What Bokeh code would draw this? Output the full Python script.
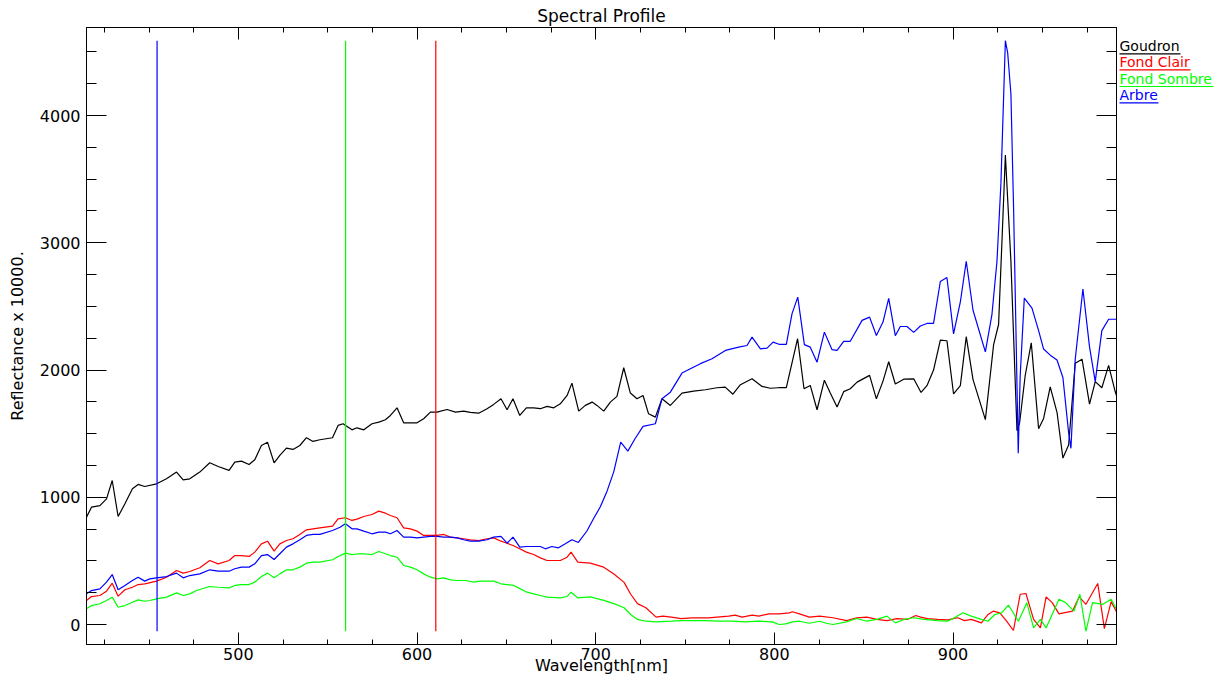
from bokeh.plotting import figure
from bokeh.models import Range1d, LinearAxis, FixedTicker
from bokeh.layouts import row
from bokeh.core.properties import value
from bokeh.embed import file_html
from bokeh.resources import INLINE

# ---------------------------------------------------------------- data
# Reflectance (x 10000) versus wavelength in nm, one profile per class.
wl_goudron = [415.0, 417.8, 422.5, 426.2, 429.4, 432.7, 436.5, 440.7, 443.9, 447.6,
              454.2, 459.8, 465.4, 469.1, 472.8, 478.4, 484.0, 488.7, 494.8, 498.0,
              501.7, 506.0, 509.2, 512.9, 516.3, 520.0, 523.2, 526.9, 530.6, 534.4,
              538.1, 541.8, 545.6, 552.7, 555.8, 558.6, 563.6, 566.4, 570.2, 574.8,
              578.6, 582.3, 585.1, 588.8, 592.5, 600.0, 603.7, 607.5, 611.2, 616.8,
              621.5, 626.1, 629.8, 634.5, 639.2, 642.9, 647.0, 650.4, 653.7, 657.5,
              661.2, 665.3, 669.0, 672.8, 676.5, 680.2, 684.0, 686.7, 690.5, 694.2,
              698.0, 700.7, 704.5, 708.2, 711.9, 715.7, 719.4, 723.1, 726.5, 729.6,
              733.4, 737.1, 741.8, 748.3, 754.8, 761.4, 767.9, 772.5, 776.8, 781.0,
              787.5, 793.1, 797.7, 802.4, 806.7, 813.0, 816.6, 820.1, 823.9, 828.0,
              831.3, 835.1, 838.8, 842.5, 846.3, 853.3, 857.1, 860.8, 864.0, 867.7,
              872.4, 878.0, 882.1, 885.4, 889.1, 892.9, 896.6, 900.3, 904.1, 907.4,
              911.2, 918.1, 922.7, 925.5, 927.5, 929.3, 932.4, 935.8, 937.3, 940.4,
              943.8, 947.9, 950.7, 954.4, 958.2, 961.5, 964.7, 968.4, 972.2, 976.4,
              979.6, 983.3, 987.1, 990.8, 991.5]
r_goudron = [844, 922, 935, 988, 1132, 849, 949, 1067, 1101, 1085,
             1106, 1145, 1198, 1137, 1145, 1198, 1271, 1242, 1211, 1276,
             1284, 1258, 1295, 1407, 1433, 1271, 1329, 1386, 1376, 1407,
             1468, 1439, 1452, 1468, 1565, 1578, 1530, 1546, 1530, 1578,
             1591, 1609, 1643, 1703, 1585, 1585, 1617, 1669, 1669, 1690,
             1669, 1677, 1667, 1661, 1696, 1730, 1774, 1688, 1774, 1643,
             1703, 1703, 1696, 1714, 1703, 1735, 1800, 1897, 1677, 1722,
             1748, 1722, 1677, 1748, 1793, 2018, 1819, 1774, 1800, 1656,
             1630, 1774, 1722, 1819, 1834, 1845, 1861, 1866, 1810, 1885,
             1932, 1871, 1857, 1861, 1861, 2246, 1853, 1879, 1688, 1920,
             1819, 1710, 1830, 1853, 1905, 1958, 1774, 1913, 2065, 1890,
             1928, 1931, 1824, 1877, 2000, 2235, 2230, 1812, 1877, 2262,
             1925, 1610, 2197, 2358, 3050, 3690, 2855, 1524, 1588, 1957,
             2214, 1539, 1620, 1867, 1668, 1308, 1411, 2053, 2085, 1732,
             1909, 1861, 2037, 1829, 1800]

wl_clair = [415.0, 417.8, 422.5, 426.2, 429.4, 432.7, 436.5, 440.7, 443.9, 447.6,
            454.2, 459.8, 465.4, 469.1, 472.8, 478.4, 484.0, 488.7, 494.8, 498.0,
            501.7, 506.0, 509.2, 512.9, 516.3, 520.0, 523.2, 526.9, 530.6, 534.4,
            538.1, 541.8, 545.6, 552.7, 555.8, 559.9, 563.6, 566.4, 570.2, 574.8,
            578.6, 582.3, 585.1, 588.8, 592.5, 596.3, 600.0, 603.7, 607.5, 611.2,
            615.0, 618.7, 622.4, 626.1, 629.8, 634.5, 639.2, 642.9, 647.0, 650.4,
            653.7, 657.5, 661.2, 665.3, 669.0, 672.8, 680.2, 684.0, 686.2, 690.0,
            697.0, 704.5, 710.2, 715.9, 719.6, 723.4, 728.1, 733.8, 737.6, 742.3,
            747.9, 753.6, 763.0, 774.4, 778.1, 781.9, 787.6, 791.3, 797.0, 802.7,
            808.3, 810.2, 814.0, 819.6, 825.3, 832.8, 840.4, 846.1, 851.7, 857.4,
            863.0, 868.7, 874.4, 879.1, 881.9, 885.7, 891.3, 897.0, 902.7, 906.4,
            910.2, 915.9, 919.6, 922.5, 926.2, 930.0, 933.8, 937.6, 940.8, 945.1,
            948.9, 952.1, 955.5, 959.3, 966.8, 970.6, 974.4, 981.0, 984.7, 988.5,
            991.5]
r_clair = [189, 220, 228, 262, 325, 223, 273, 293, 314, 320,
           341, 372, 425, 404, 417, 446, 503, 477, 503, 542,
           542, 535, 569, 634, 655, 577, 634, 660, 674, 708,
           744, 752, 760, 773, 831, 839, 818, 828, 849, 865,
           891, 875, 857, 839, 760, 752, 734, 700, 700, 700,
           708, 687, 681, 674, 666, 660, 674, 681, 655, 639,
           621, 595, 569, 550, 524, 503, 503, 529, 569, 490,
           482, 451, 397, 331, 238, 164, 132, 58, 66, 58,
           47, 53, 53, 66, 74, 58, 74, 66, 84, 84,
           92, 100, 84, 58, 66, 53, 31, 53, 58, 40,
           31, 47, 40, 71, 58, 47, 40, 37, 53, 31,
           40, 13, 79, 105, 92, 26, -47, 238, 244, 40,
           -27, 217, 172, 84, 105, 217, 159, 323, -32, 180,
           100]

wl_sombre = [415.0, 417.8, 422.5, 426.2, 429.4, 432.7, 436.5, 440.7, 443.9, 447.6,
             450.4, 454.2, 459.8, 465.4, 469.1, 472.8, 476.6, 484.0, 488.7, 494.8,
             498.0, 501.7, 506.0, 509.2, 512.9, 516.3, 520.0, 523.2, 526.9, 530.6,
             534.4, 538.1, 541.8, 545.6, 552.7, 555.8, 559.9, 563.6, 567.4, 570.2,
             574.8, 578.6, 582.3, 585.1, 588.8, 592.5, 596.3, 600.0, 603.7, 607.5,
             611.2, 615.0, 618.7, 622.4, 627.1, 631.7, 635.4, 642.9, 647.0, 650.4,
             654.1, 657.8, 661.6, 665.3, 669.0, 672.8, 680.2, 684.0, 686.2, 689.9,
             697.0, 704.5, 710.2, 715.9, 719.6, 723.4, 728.1, 733.8, 742.3, 747.9,
             753.6, 761.1, 768.7, 776.2, 783.8, 791.3, 798.9, 802.7, 806.4, 810.2,
             814.0, 819.6, 825.3, 829.1, 832.8, 840.4, 846.1, 851.7, 857.4, 863.0,
             867.8, 872.5, 878.1, 883.8, 891.3, 897.0, 900.8, 905.5, 910.2, 915.9,
             919.6, 923.4, 927.2, 931.0, 936.6, 941.3, 945.1, 948.9, 952.1, 959.3,
             963.0, 967.7, 971.0, 974.4, 978.1, 983.8, 988.5, 991.5]
r_sombre = [123, 149, 163, 189, 215, 136, 149, 175, 194, 183,
            189, 202, 215, 249, 228, 241, 267, 299, 293, 288,
            307, 314, 314, 333, 377, 404, 367, 398, 430, 430,
            451, 482, 490, 490, 509, 535, 561, 550, 556, 556,
            550, 574, 556, 542, 529, 464, 451, 430, 398, 372,
            359, 367, 351, 346, 346, 333, 341, 341, 320, 314,
            307, 280, 254, 241, 228, 215, 210, 220, 254, 210,
            217, 190, 164, 132, 79, 40, 26, 21, 26, 31,
            31, 31, 26, 26, 21, 26, 21, 0, 5, 21,
            26, 10, 26, 10, 0, 21, 47, 26, 40, 66,
            13, 40, 53, 40, 31, 26, 53, 92, 66, 40,
            26, 79, 92, 153, 26, 172, -27, 40, -27, 198,
            172, 105, 238, -53, 172, 159, 198, 120]

wl_arbre = [415.0, 417.8, 422.5, 426.2, 429.4, 432.7, 436.5, 440.7, 443.9, 447.6,
            450.4, 454.2, 459.8, 465.4, 469.1, 472.8, 478.4, 484.0, 488.7, 494.8,
            498.0, 501.7, 506.0, 509.2, 512.9, 516.3, 520.0, 523.2, 526.9, 530.6,
            534.4, 538.1, 541.8, 545.6, 552.7, 556.9, 559.9, 563.6, 566.4, 570.2,
            574.8, 578.6, 582.3, 585.1, 588.8, 592.5, 596.3, 600.0, 603.7, 607.5,
            611.2, 615.0, 618.7, 622.4, 626.1, 629.8, 634.5, 639.2, 642.9, 647.0,
            650.4, 653.7, 657.5, 661.2, 665.3, 669.0, 671.8, 675.5, 679.2, 683.0,
            686.7, 690.3, 695.1, 698.9, 702.6, 706.4, 710.1, 714.0, 718.0, 722.0,
            726.5, 733.4, 737.1, 741.8, 748.3, 753.0, 758.6, 765.1, 772.6, 780.0,
            784.7, 787.5, 792.2, 795.9, 799.3, 803.0, 806.7, 809.9, 813.1, 816.8,
            820.1, 823.9, 828.0, 832.3, 835.1, 838.8, 842.5, 849.1, 853.3, 857.1,
            860.8, 864.0, 867.7, 870.5, 874.2, 878.0, 881.7, 885.4, 889.1, 892.9,
            896.6, 900.3, 904.1, 907.4, 911.2, 918.1, 921.8, 924.6, 926.8, 929.3,
            930.6, 932.4, 933.9, 935.4, 936.5, 937.6, 939.9, 944.2, 947.9, 950.7,
            954.4, 958.2, 961.5, 964.7, 966.0, 968.4, 972.7, 976.4, 979.6, 983.3,
            987.1, 990.8, 991.5]
r_arbre = [241, 267, 280, 333, 393, 273, 307, 346, 372, 341,
           359, 367, 377, 404, 367, 385, 398, 430, 419, 419,
           438, 451, 451, 477, 542, 550, 511, 556, 608, 634,
           666, 700, 708, 708, 739, 765, 792, 752, 752, 734,
           713, 726, 726, 713, 739, 687, 687, 681, 687, 692,
           692, 687, 687, 681, 666, 655, 655, 666, 687, 692,
           639, 687, 608, 613, 613, 613, 595, 613, 603, 634,
           666, 645, 735, 835, 925, 1050, 1200, 1433, 1363, 1460,
           1557, 1578, 1774, 1826, 1976, 2010, 2050, 2089, 2154, 2180,
           2193, 2259, 2167, 2172, 2219, 2201, 2201, 2443, 2573, 2200,
           2180, 2062, 2298, 2160, 2154, 2226, 2226, 2390, 2416, 2272,
           2377, 2563, 2270, 2342, 2342, 2296, 2346, 2366, 2366, 2696,
           2727, 2284, 2535, 2855, 2470, 2143, 2438, 2855, 3465, 4588,
           4492, 4171, 3272, 2182, 1347, 1957, 2566, 2486, 2310, 2165,
           2117, 2079, 1941, 1508, 1385, 2085, 2637, 2182, 1909, 2310,
           2399, 2399, 2399]

class_names = ["Goudron", "Fond Clair", "Fond Sombre", "Arbre"]
class_colors = ["#000000", "#ff0000", "#00ff00", "#0000ff"]

# wavelengths of the bands used for the red, green and blue display channels
band_wl = [610.5, 560.0, 454.5]
band_colors = ["#ff0000", "#00ff00", "#0000ff"]

x_major = [500, 600, 700, 800, 900]
x_minor = [425, 450, 475, 525, 550, 575, 625, 650, 675, 725, 750, 775,
           825, 850, 875, 925, 950, 975]
y_major = [0, 1000, 2000, 3000, 4000]
y_minor = [250, 500, 750, 1250, 1500, 1750, 2250, 2500, 2750,
           3250, 3500, 3750, 4250, 4500]

FONT = "DejaVu Sans"
H = 678
BORDER_TOP, BORDER_BOTTOM = 27, 34

# ---------------------------------------------------------------- main plot
p = figure(width=1118, height=H, output_backend="svg", toolbar_location=None,
           x_range=Range1d(415, 991.5), y_range=Range1d(-157, 4692),
           min_border_left=86, min_border_right=2, min_border_top=BORDER_TOP,
           min_border_bottom=BORDER_BOTTOM, title="Spectral Profile",
           background_fill_color="white", border_fill_color="white")
p.grid.visible = False
p.outline_line_color = "black"
p.title.align = "center"
p.title.text_font = FONT
p.title.text_font_size = "17px"
p.title.text_font_style = "normal"
p.title.text_color = "black"
p.title.standoff = 3

xt = FixedTicker(ticks=x_major, minor_ticks=x_minor)
yt = FixedTicker(ticks=y_major, minor_ticks=y_minor)


def style_axis(ax, tick_major, tick_minor):
    ax.axis_line_color = "black"
    ax.major_tick_line_color = "black"
    ax.minor_tick_line_color = "black"
    ax.major_tick_in = tick_major
    ax.major_tick_out = 0
    ax.minor_tick_in = tick_minor
    ax.minor_tick_out = 0
    ax.major_label_text_font = FONT
    ax.major_label_text_color = "black"
    ax.major_label_text_font_size = "16px"
    ax.axis_label_text_font = FONT
    ax.axis_label_text_font_size = "16px"
    ax.axis_label_text_font_style = "normal"
    ax.axis_label_text_color = "black"


xa = p.xaxis[0]
xa.ticker = xt
style_axis(xa, 12, 5)
xa.major_label_standoff = 3
xa.axis_label = "Wavelength[nm]"
xa.axis_label_standoff = -7

ya = p.yaxis[0]
ya.ticker = yt
style_axis(ya, 20, 10)
ya.major_label_standoff = 6
ya.axis_label = "Reflectance x 10000."
ya.axis_label_standoff = 10

# tick-only frame edges on the top and the right
top = LinearAxis(ticker=xt)
style_axis(top, 12, 5)
top.major_label_text_color = None
top.major_label_text_alpha = 0
top.major_label_text_font_size = "0px"
top.major_label_standoff = 0
p.add_layout(top, "above")
right = LinearAxis(ticker=yt)
style_axis(right, 20, 10)
right.major_label_text_color = None
right.major_label_text_alpha = 0
right.major_label_text_font_size = "0px"
right.major_label_standoff = 0
p.add_layout(right, "right")

series = [(wl_goudron, r_goudron), (wl_clair, r_clair),
          (wl_sombre, r_sombre), (wl_arbre, r_arbre)]
for (wl, refl), col in zip(series, class_colors):
    p.line(wl, refl, line_color=col, line_width=1.2)

# band markers run from the lowest to the highest reflectance of all profiles
all_refl = r_goudron + r_clair + r_sombre + r_arbre
lo, hi = min(all_refl), max(all_refl)
p.segment(x0=band_wl, y0=[lo] * 3, x1=band_wl, y1=[hi] * 3,
          line_color=band_colors, line_width=1.2)

# ---------------------------------------------------------------- legend
# companion canvas whose frame shares the main frame's top and bottom;
# its y range is expressed in page pixels counted from the top
lg = figure(width=108, height=H, output_backend="svg", toolbar_location=None,
            x_range=Range1d(0, 108),
            y_range=Range1d(H - BORDER_BOTTOM, BORDER_TOP),
            min_border_left=0, min_border_right=0,
            min_border_top=BORDER_TOP, min_border_bottom=BORDER_BOTTOM,
            x_axis_type=None, y_axis_type=None, outline_line_color=None)
lg.grid.visible = False
text_mid = [45.5, 61.5, 78.0, 94.0]
underline_y = [53.3, 69.3, 86.0, 102.3]
underline_px = [61, 71, 94, 39]
lg.text(x=[1] * 4, y=text_mid, text=class_names,
        text_color=class_colors, text_font=value(FONT), text_font_size="14px",
        text_baseline="middle", text_align="left")
lg.segment(x0=[1] * 4, y0=underline_y,
           x1=[1 + w for w in underline_px], y1=underline_y,
           line_color=class_colors, line_width=1.2)

layout = row(p, lg)
open("out.html", "w").write(file_html(layout, INLINE))
